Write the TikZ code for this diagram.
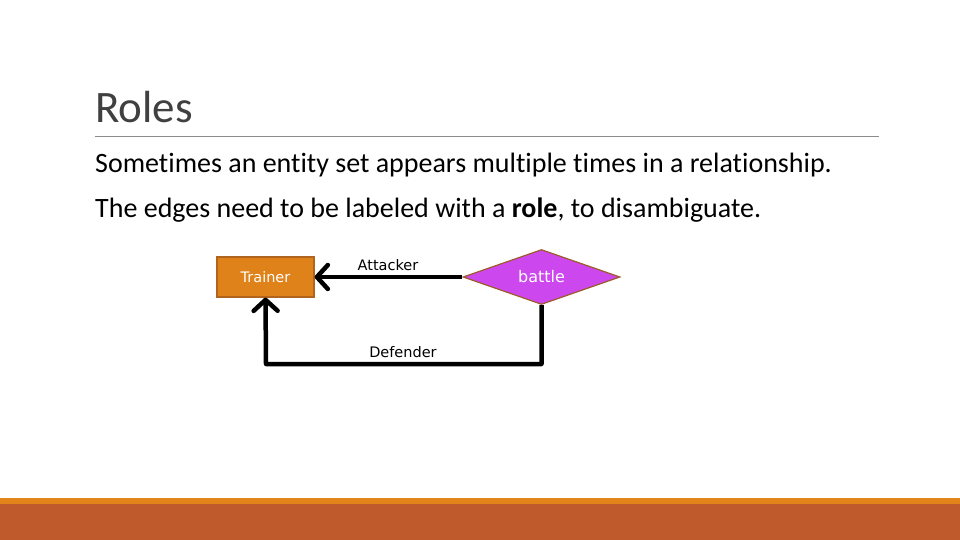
\documentclass[tikz,border=0pt]{standalone}
\usepackage{fontspec}
\setmainfont{Carlito}[Ligatures=NoCommon]
\newfontfamily\diagfont{DejaVu Sans}
\usetikzlibrary{shapes.geometric,arrows.meta}
\definecolor{titlegray}{HTML}{404040}
\definecolor{rulegray}{HTML}{8C8C8C}
\definecolor{entityfill}{HTML}{E0821A}
\definecolor{entityline}{HTML}{B0641E}
\definecolor{relfill}{HTML}{CC48EE}
\definecolor{relline}{HTML}{9E5A2A}
\definecolor{bandlight}{HTML}{E2841A}
\definecolor{banddark}{HTML}{BE5A2B}
\begin{document}
\begin{tikzpicture}[
    x=1pt, y=-1pt,
    entity/.style={rectangle, draw=entityline, fill=entityfill, line width=1.2pt, minimum width=97pt, minimum height=40pt, text=white, font=\diagfont\fontsize{14.5}{16}\selectfont},
    relation/.style={diamond, draw=relline, fill=relfill, line width=1.2pt, aspect=2.85, minimum width=157pt, minimum height=55pt, inner sep=0pt, text=white, font=\diagfont\fontsize{16}{18}\selectfont},
    edge/.style={line width=4.5pt, -{Straight Barb[length=11pt, width=24pt, line width=4.5pt, round]}},
    rolelabel/.style={font=\diagfont\fontsize{14.5}{16}\selectfont, anchor=base},
    bodytext/.style={anchor=base west, inner sep=0pt, font=\fontsize{28}{32}\selectfont}
]
\useasboundingbox (0,0) rectangle (960,540);

% Slide title and text
\node[anchor=base west, inner sep=0pt, text=titlegray, font=\fontsize{45}{50}\selectfont] (title) at (95,123) {Roles};
\draw[rulegray, line width=0.8pt] (95,136) -- (879,136);
\node[bodytext] (line1) at (95,172) {Sometimes an entity set appears multiple times in a relationship.};
\node[bodytext] (line2) at (95,217) {The edges need to be labeled with a \textbf{role}, to disambiguate.};

% Diagram
\node[entity] (trainer) at (265.5,277) {Trainer};
\node[relation] (battle) at (541.5,277) {battle};
\coordinate (c1) at (541.5,364);
\coordinate (c2) at (266,364);

\draw[edge] (battle.west) -- (trainer.east);
\draw[edge, line join=round] (battle.south) -- (c1) -- (c2) -- (trainer.south);

\node[rolelabel] (attacker) at (388,270) {Attacker};
\node[rolelabel] (defender) at (403,357) {Defender};

% Footer bands
\fill[bandlight] (0,498) rectangle (960,504);
\fill[banddark] (0,504) rectangle (960,540);

\end{tikzpicture}
\end{document}
